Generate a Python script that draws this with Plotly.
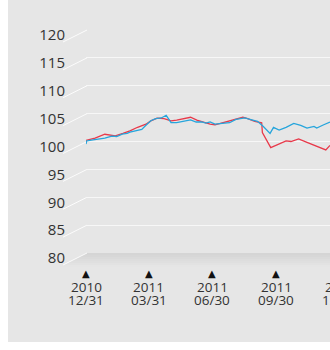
import plotly.graph_objects as go
import pandas as pd

# ---------------- data ----------------
red_dates = ["2010-12-31", "2011-01-13", "2011-01-27", "2011-02-03", "2011-02-11", "2011-02-22",
             "2011-03-04", "2011-03-15", "2011-03-27", "2011-04-03", "2011-04-12", "2011-04-22",
             "2011-05-02", "2011-05-10", "2011-05-20", "2011-05-30", "2011-06-08", "2011-06-18",
             "2011-06-27", "2011-07-04", "2011-07-12", "2011-07-22", "2011-08-01", "2011-08-09",
             "2011-08-13", "2011-08-20", "2011-08-30", "2011-09-09", "2011-09-10", "2011-09-22",
             "2011-10-01", "2011-10-14", "2011-10-21", "2011-11-01", "2011-11-13", "2011-11-23",
             "2011-12-10", "2011-12-16"]
red_values = [100.2, 100.6, 101.3, 101.2, 101.0, 101.45,
              101.9, 102.55, 103.1, 103.7, 104.2, 104.1,
              103.7, 103.85, 104.1, 104.35, 103.85, 103.5,
              103.1, 103.0, 103.25, 103.6, 103.85, 104.2,
              104.35, 104.1, 103.6, 103.35, 101.6, 98.9,
              99.4, 100.1, 100.0, 100.45, 99.85, 99.4,
              98.5, 99.3]

blue_dates = ["2010-12-31", "2011-01-01", "2011-01-10", "2011-01-20", "2011-01-27", "2011-02-06",
              "2011-02-13", "2011-02-21", "2011-02-28", "2011-03-04", "2011-03-14", "2011-03-21",
              "2011-03-27", "2011-04-03", "2011-04-10", "2011-04-18", "2011-04-25", "2011-05-02",
              "2011-05-10", "2011-05-20", "2011-05-30", "2011-06-07", "2011-06-15", "2011-06-21",
              "2011-06-27", "2011-07-04", "2011-07-12", "2011-07-25", "2011-08-03", "2011-08-10",
              "2011-08-16", "2011-08-23", "2011-09-03", "2011-09-11", "2011-09-18", "2011-09-21",
              "2011-09-26", "2011-10-04", "2011-10-14", "2011-10-25", "2011-11-04", "2011-11-13",
              "2011-11-23", "2011-11-27", "2011-12-07", "2011-12-16"]
blue_values = [99.55, 100.1, 100.3, 100.42, 100.6, 100.96,
               100.9, 101.32, 101.45, 101.68, 101.92, 102.17,
               102.9, 103.73, 104.1, 104.22, 104.7, 103.4,
               103.4, 103.65, 103.86, 103.5, 103.5, 103.3,
               103.5, 103.13, 103.26, 103.37, 103.98, 104.1,
               104.22, 103.98, 103.62, 102.72, 101.92, 101.45,
               102.54, 102.05, 102.54, 103.26, 102.9, 102.4,
               102.72, 102.4, 103.0, 103.5]

tick_dates = ["2010-12-31", "2011-03-31", "2011-06-30", "2011-09-30", "2011-12-31"]
tick_years = ["2010", "2011", "2011", "2011", "2011"]
tick_days = ["12/31", "03/31", "06/30", "09/30", "12/31"]

y_ticks = [80, 85, 90, 95, 100, 105, 110, 115, 120]
y_min, y_max = 80, 120
x_range = ["2010-12-31", "2011-12-16"]

# ---------------- styling ----------------
RED = "#e8394a"
BLUE = "#26a5dc"
BG = "#e6e6e6"
TXT = "#333333"
FONT = "Open Sans"

W, H = 330, 350
L, R, T, B = 86, 0, 30, 97
pw, ph = W - L - R, H - T - B


def px_x(px):
    return (px - L) / pw


def px_y(py):
    return (H - B - py) / ph


fig = go.Figure()

fig.add_trace(go.Scatter(x=red_dates, y=red_values, mode="lines",
                         line=dict(color=RED, width=1.3), hoverinfo="skip"))
fig.add_trace(go.Scatter(x=blue_dates, y=blue_values, mode="lines",
                         line=dict(color=BLUE, width=1.3), hoverinfo="skip"))

# tick triangles and two-line labels under the axis (annotations)
x0 = pd.Timestamp(x_range[0])
x1 = pd.Timestamp(x_range[1])
annotations = []
for d, yr, md in zip(tick_dates, tick_years, tick_days):
    ts = pd.Timestamp(d)
    if ts <= x1:
        xr, xv = "x", d
    else:
        xr, xv = "paper", (ts - x0) / (x1 - x0)
    for txt, py, size, fam in [("▲", 273.5, 10, "DejaVu Sans"),
                               (yr, 286.8, 13.5, FONT),
                               (md, 300.2, 13.5, FONT)]:
        annotations.append(dict(xref=xr, yref="paper", x=xv, y=px_y(py),
                                text=txt, showarrow=False,
                                xanchor="center", yanchor="middle",
                                font=dict(family=fam, size=size,
                                          color="#111111" if txt == "▲" else TXT)))

shapes = []
# gray panel
shapes.append(dict(type="rect", xref="paper", yref="paper", layer="below",
                   x0=px_x(8), x1=1.1, y0=px_y(342), y1=px_y(-10),
                   fillcolor=BG, line=dict(width=0)))
# floor gradient strips
n = 7
floor_top = H - B
for k in range(n):
    ya = floor_top + 2 * k
    yb = ya + 2
    xa = L + 1 - (ya - floor_top) * 2
    xb = L + 1 - (yb - floor_top) * 2
    c = int(0xd5 + (0xe5 - 0xd5) * k / (n - 1))
    col = "#%02x%02x%02x" % (c, c, c)
    path = "M %f,%f L 1.1,%f L 1.1,%f L %f,%f Z" % (
        px_x(xa), px_y(ya), px_y(ya), px_y(yb), px_x(xb), px_y(yb))
    shapes.append(dict(type="path", xref="paper", yref="paper", layer="below",
                       path=path, fillcolor=col, line=dict(width=0)))
# diagonal gridline stubs
for v in y_ticks:
    yp = (v - y_min) / (y_max - y_min)
    shapes.append(dict(type="line", xref="paper", yref="paper", layer="below",
                       x0=px_x(63), y0=yp - 12 / ph, x1=px_x(L + 1), y1=yp,
                       line=dict(color="rgba(255,255,255,0.85)", width=1)))

fig.update_layout(
    width=W, height=H,
    margin=dict(l=L, r=R, t=T, b=B, pad=0),
    paper_bgcolor="white",
    plot_bgcolor="rgba(0,0,0,0)",
    showlegend=False,
    shapes=shapes,
    annotations=annotations,
    font=dict(family=FONT, color=TXT),
    xaxis=dict(type="date", range=x_range, showgrid=False, zeroline=False,
               showline=False, showticklabels=False, ticks="", fixedrange=True),
    yaxis=dict(range=[y_min, y_max], tickvals=y_ticks, showgrid=True,
               gridcolor="#f7f7f7", gridwidth=1, zeroline=False, showline=False,
               ticks="", tickfont=dict(family=FONT, size=15, color=TXT),
               ticklabelstandoff=20, ticklabelshift=5, fixedrange=True),
)

fig.write_html("out.html")
